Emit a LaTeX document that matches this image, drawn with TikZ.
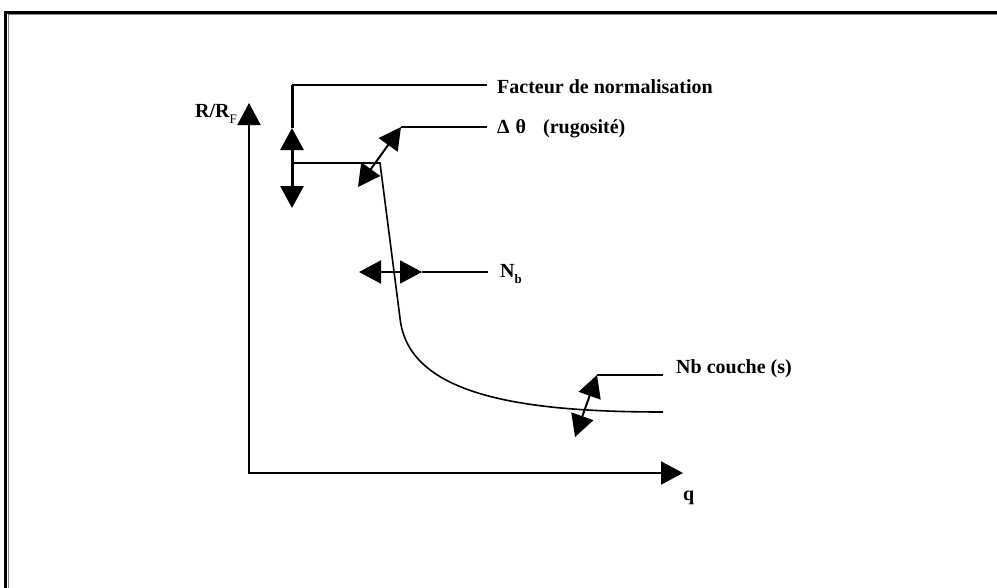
\documentclass[tikz,border=0pt]{standalone}
\usepackage{fontspec}
\setmainfont{Liberation Serif}
\usetikzlibrary{arrows.meta}
\begin{document}
\begin{tikzpicture}[x=1pt,y=-1pt,
    dbl/.style={line width=2pt,{Triangle[length=22pt,width=23pt]}-{Triangle[length=22pt,width=23pt]}},
    lbl/.style={anchor=base west,inner sep=0pt,font=\fontsize{20}{24}\selectfont\bfseries}]
    \useasboundingbox (0,0) rectangle (997,587);
    % frame
    \draw[line width=3pt] (5.5,640) -- (5.5,12) -- (1040,12);
    \draw[gray,line width=0.8pt] (8.5,640) -- (8.5,14.5) -- (1040,14.5);
    % axes
    \coordinate (O) at (249,473);
    \coordinate (ytip) at (249,103);
    \coordinate (xtip) at (683,473);
    \draw[line width=2pt,{Triangle[length=22pt,width=23pt]}-{Triangle[length=22pt,width=23pt]}] (ytip) -- (O) -- (xtip);
    \node[lbl] (ylab) at (195,117) {R/R\raisebox{-6pt}{\fontsize{13}{14}\selectfont\mdseries F}};
    \node[lbl] (xlab) at (683,500) {q};
    % curve
    \coordinate (c0) at (292,163);
    \coordinate (c1) at (380,163);
    \coordinate (c2) at (400,318);
    \coordinate (c3) at (663,412);
    \draw[line width=1.6pt] (c0) -- (c1) -- (c2) .. controls (408,395) and (520,412) .. (c3);
    % facteur de normalisation
    \coordinate (fdn) at (292,208);
    \coordinate (fup) at (292,128);
    \coordinate (f1) at (292,85);
    \coordinate (f2) at (487,85);
    \draw[dbl,line width=3pt] (fdn) -- (fup);
    \draw[line width=3pt] (fup) -- (f1);
    \draw[line width=2pt] (f1) -- (f2);
    \node[lbl] (flab) at (497,93) {Facteur de normalisation};
    % rugosite
    \coordinate (r0) at (358,187);
    \coordinate (r1) at (401,127);
    \coordinate (r2) at (487,127);
    \draw[dbl] (r0) -- (r1);
    \draw[line width=2pt] (r1) -- (r2);
    \node[lbl] (rlab) at (497,133) {Δ\hspace{6pt}θ\hspace{17pt}(rugosité)};
    % Nb
    \coordinate (n0) at (359,272);
    \coordinate (n1) at (422,272);
    \coordinate (n2) at (488,272);
    \draw[dbl] (n0) -- (n1);
    \draw[line width=2pt] (n1) -- (n2);
    \node[lbl] (nlab) at (500,277) {N\raisebox{-6pt}{\fontsize{13}{14}\selectfont b}};
    % Nb couche
    \coordinate (k0) at (575,437);
    \coordinate (k1) at (597,375);
    \coordinate (k2) at (663,375);
    \draw[dbl] (k0) -- (k1);
    \draw[line width=2pt] (k1) -- (k2);
    \node[lbl] (klab) at (676,373) {Nb couche (s)};
\end{tikzpicture}
\end{document}
